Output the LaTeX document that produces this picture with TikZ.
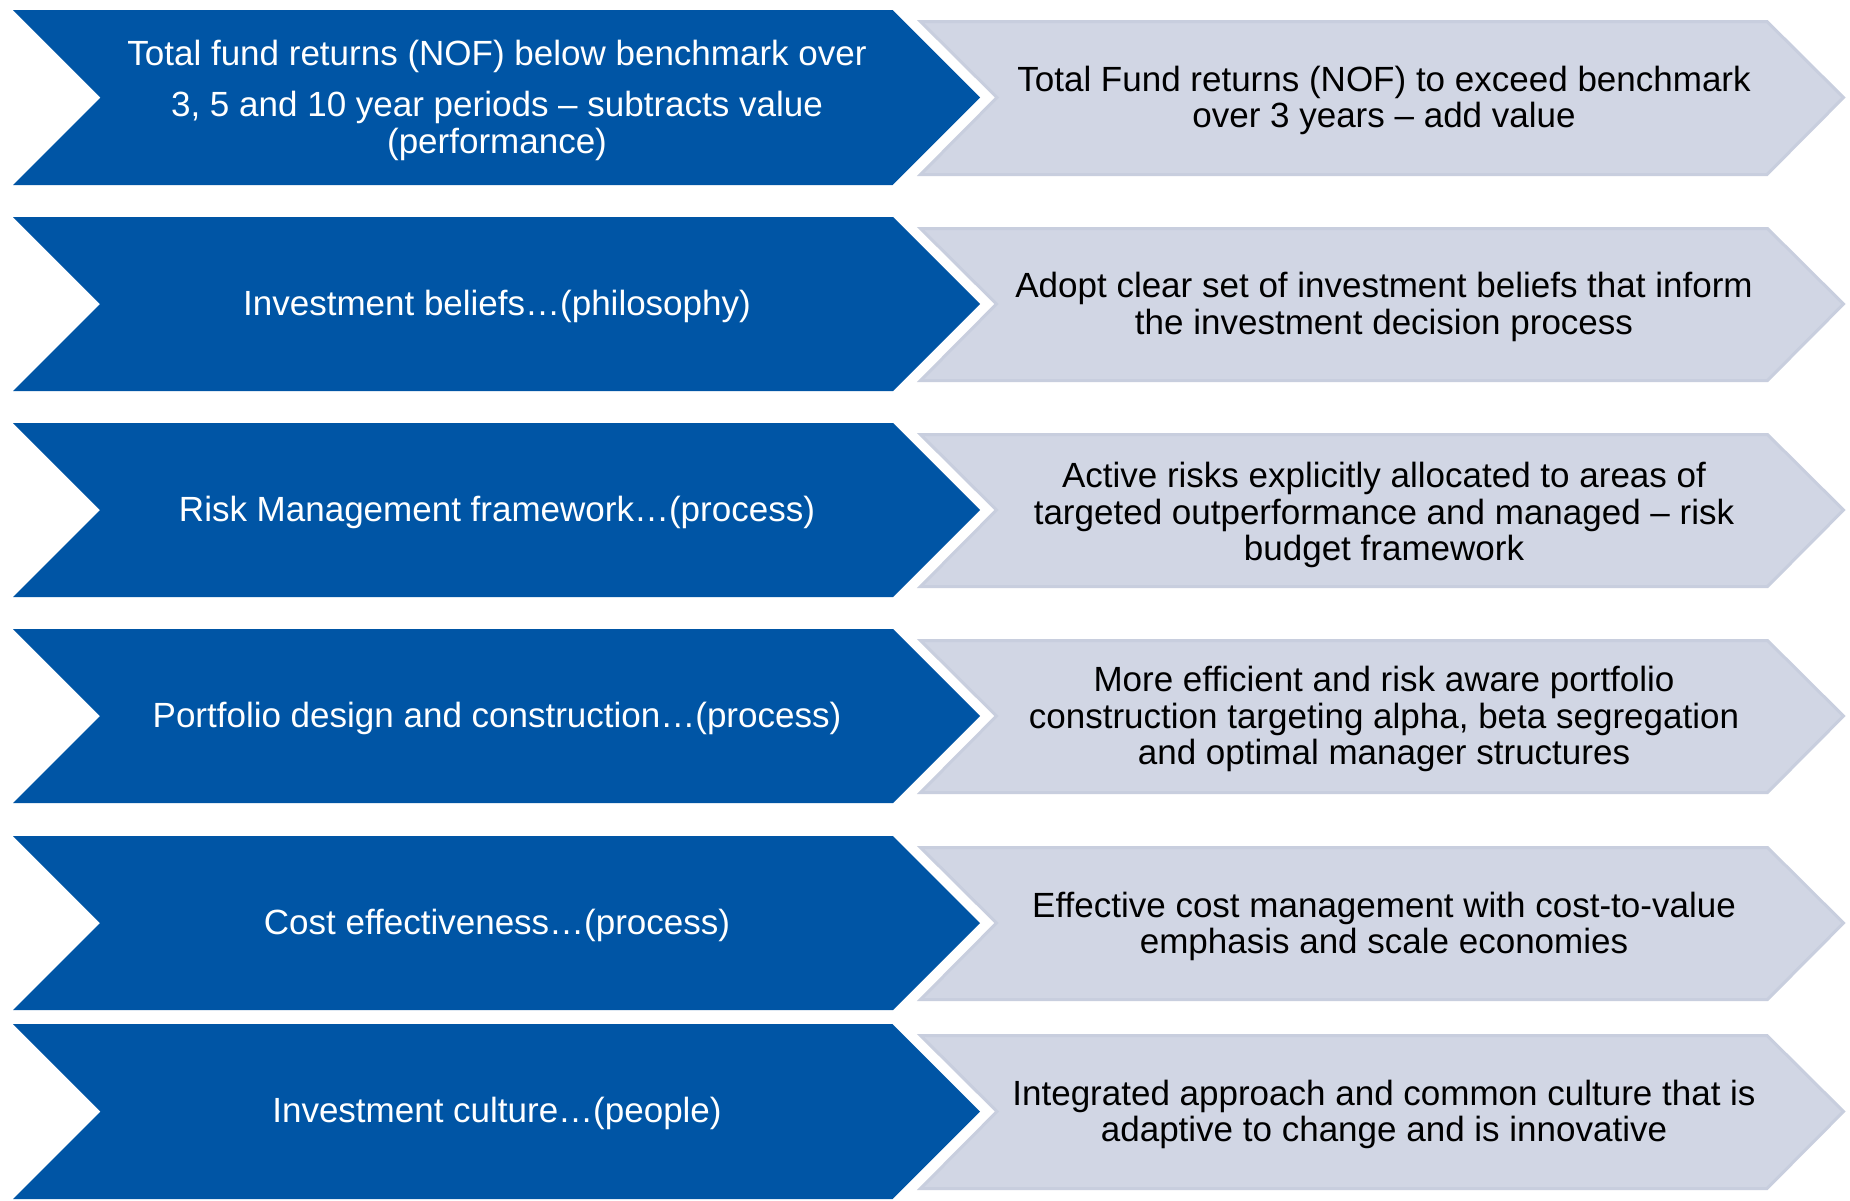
\documentclass[tikz,border=0pt]{standalone}
\usepackage{fontspec}
\setmainfont{Liberation Sans}
\definecolor{chevblue}{RGB}{0,85,165}
\definecolor{chevgray}{RGB}{209,214,228}
\definecolor{chevgrayline}{RGB}{200,206,222}
\begin{document}
\begin{tikzpicture}[x=1pt,y=-1pt,
  bluetext/.style={text=white,align=center,font=\fontsize{35}{36.6}\selectfont,inner sep=0pt},
  graytext/.style={text=black,align=center,font=\fontsize{35}{36.6}\selectfont,inner sep=0pt},
  bluechev/.style={fill=chevblue},
  graychev/.style={fill=chevgray,draw=chevgrayline,line width=3pt}]
\useasboundingbox[fill=white] (0,0) rectangle (1850,1200);
\foreach \t/\b in {10/185,217/391,423/597,629/803,836/1010,1024/1199}{
  \pgfmathsetmacro{\c}{(\t+\b)/2}
  \pgfmathsetmacro{\h}{(\b-\t)/2}
  \fill[bluechev] (13,\t) -- (980-\h,\t) -- (980,\c) -- (980-\h,\b) -- (13,\b) -- (13+\h,\c) -- cycle;
  \pgfmathsetmacro{\gt}{\t+10}
  \pgfmathsetmacro{\gb}{\b-9}
  \pgfmathsetmacro{\gh}{(\gb-\gt)/2}
  \draw[graychev] (919+1.5,\gt+1.5) -- (1845-\gh,\gt+1.5) -- (1845-1.5,\c) -- (1845-\gh,\gb-1.5) -- (919+1.5,\gb-1.5) -- (919+\gh,\c) -- cycle;
}
\node[bluetext] (b1) at (497,100.5) {Total fund returns (NOF) below benchmark over\\[14pt]3, 5 and 10 year periods -- subtracts value\\(performance)};
\node[bluetext] (b2) at (497,306.5) {Investment beliefs\ldots(philosophy)};
\node[bluetext] (b3) at (497,512.5) {Risk Management framework\ldots(process)};
\node[bluetext] (b4) at (497,718.5) {Portfolio design and construction\ldots(process)};
\node[bluetext] (b5) at (497,925.5) {Cost effectiveness\ldots(process)};
\node[bluetext] (b6) at (497,1113.5) {Investment culture\ldots(people)};
\node[graytext] (g1) at (1384,100.5) {Total Fund returns (NOF) to exceed benchmark\\over 3 years -- add value};
\node[graytext] (g2) at (1384,307) {Adopt clear set of investment beliefs that inform\\the investment decision process};
\node[graytext] (g3) at (1384,515) {Active risks explicitly allocated to areas of\\targeted outperformance and managed -- risk\\budget framework};
\node[graytext] (g4) at (1384,719) {More efficient and risk aware portfolio\\construction targeting alpha, beta segregation\\and optimal manager structures};
\node[graytext] (g5) at (1384,926.5) {Effective cost management with cost-to-value\\emphasis and scale economies};
\node[graytext] (g6) at (1384,1114.5) {Integrated approach and common culture that is\\adaptive to change and is innovative};
\end{tikzpicture}
\end{document}
